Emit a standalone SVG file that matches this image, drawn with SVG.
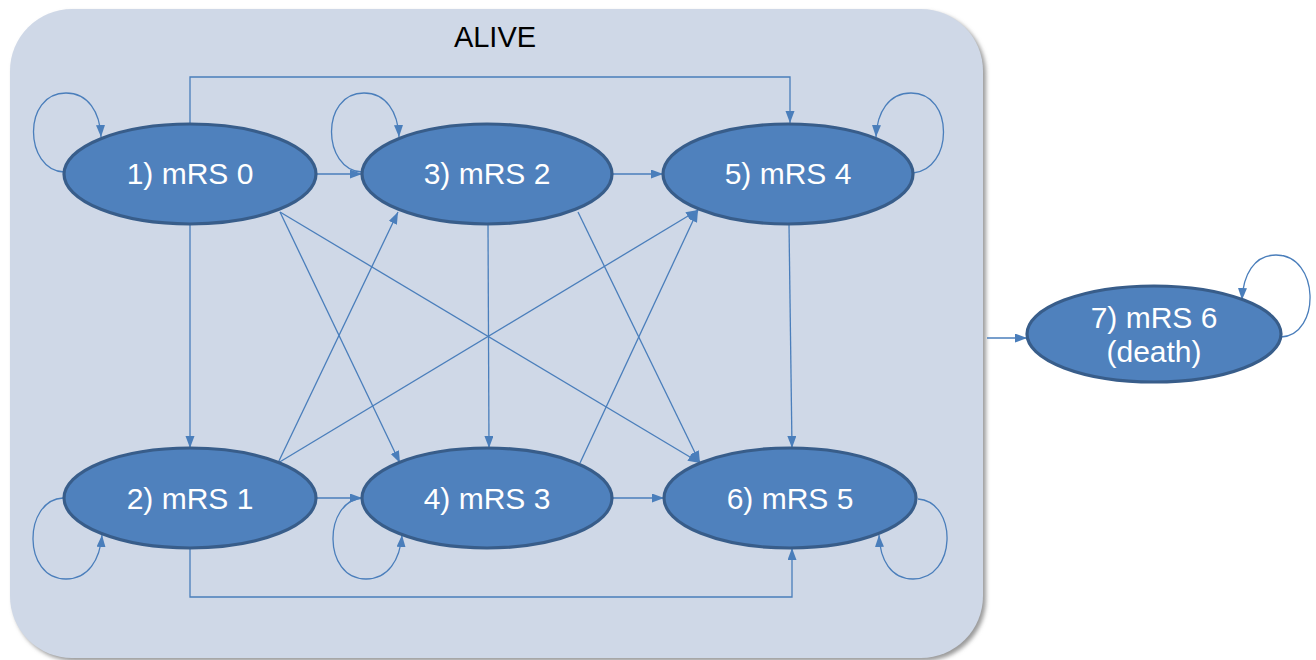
<svg xmlns="http://www.w3.org/2000/svg" width="1316" height="660" viewBox="0 0 1316 660">
<defs>
<style>
.node{fill:#4f81bd;stroke:#385d8a;stroke-width:3.2}
.lbl{font-family:"Liberation Sans",Arial,sans-serif;font-size:30px;fill:#ffffff;text-anchor:middle}
.c{fill:none;stroke:#4a7ebb;stroke-width:1.3;marker-end:url(#ah)}
</style>
<marker id="ah" markerUnits="userSpaceOnUse" markerWidth="13" markerHeight="10" refX="12" refY="4.5" orient="auto">
<path d="M0,0 L12,4.5 L0,9 z" fill="#4a7ebb"/>
</marker>
<filter id="sh" x="-5%" y="-5%" width="110%" height="110%">
<feGaussianBlur stdDeviation="2"/>
</filter>
</defs>
<rect width="1316" height="660" fill="#ffffff"/>
<g id="alive">
<rect x="13" y="12" width="973" height="649" rx="62" fill="#9a9a9a" filter="url(#sh)"/>
<rect x="10" y="9" width="973" height="649" rx="62" fill="#cfd8e7"/>
<text x="495" y="47" font-family="Liberation Sans,Arial,sans-serif" font-size="29" text-anchor="middle" fill="#000000">ALIVE</text>
</g>
<g id="connectors">
<path class="c" d="M316,174 L362,174"/>
<path class="c" d="M612,174 L663,174"/>
<path class="c" d="M316,498 L362,498"/>
<path class="c" d="M612,498 L664,498"/>
<path class="c" d="M190,224 L190,448"/>
<path class="c" d="M488,224 L489,448"/>
<path class="c" d="M789,224 L792,448"/>
<path class="c" d="M190,124 L190,77 L790,77 L790,123"/>
<path class="c" d="M190,548 L190,597 L792,597 L792,548"/>
<path class="c" d="M280,212 L400,463"/>
<path class="c" d="M280,212 L700,463"/>
<path class="c" d="M278,463 L398,212"/>
<path class="c" d="M278,463 L698,210"/>
<path class="c" d="M578,212 L700,463"/>
<path class="c" d="M580,463 L698,210"/>
<path class="c" d="M987,338 L1027,338"/>
<path class="c" d="M64,172 C24,170 22,93 66,93 C88,93 100,112 101,137"/>
<path class="c" d="M362,172 C322,170 320,93 364,93 C386,93 398,112 399,137"/>
<path class="c" d="M913,173 C953,170 955,93 911,93 C889,93 877,112 876,137"/>
<path class="c" d="M63,498 C23,500 22,579 66,579 C88,579 100,560 102,535"/>
<path class="c" d="M363,498 C323,500 322,579 366,579 C388,579 400,560 402,535"/>
<path class="c" d="M918,499 C958,502 957,579 913,579 C891,579 880,560 879,535"/>
<path class="c" d="M1281,337 C1321,335 1320,255 1276,255 C1254,255 1243,275 1242,300"/>
</g>
<g id="n1"><ellipse class="node" cx="190" cy="174" rx="126" ry="50"/><text class="lbl" x="190" y="184">1) mRS 0</text></g>
<g id="n3"><ellipse class="node" cx="487" cy="174" rx="125" ry="50"/><text class="lbl" x="487" y="184">3) mRS 2</text></g>
<g id="n5"><ellipse class="node" cx="788" cy="174" rx="125" ry="50"/><text class="lbl" x="788" y="184">5) mRS 4</text></g>
<g id="n2"><ellipse class="node" cx="190" cy="498" rx="126" ry="50"/><text class="lbl" x="190" y="509">2) mRS 1</text></g>
<g id="n4"><ellipse class="node" cx="487" cy="498" rx="125" ry="50"/><text class="lbl" x="487" y="509">4) mRS 3</text></g>
<g id="n6"><ellipse class="node" cx="790" cy="498" rx="126" ry="50"/><text class="lbl" x="790" y="509">6) mRS 5</text></g>
<g id="n7"><ellipse class="node" cx="1154" cy="334" rx="127" ry="48"/><text class="lbl" x="1154" y="328">7) mRS 6</text><text class="lbl" x="1154" y="362">(death)</text></g>
</svg>
